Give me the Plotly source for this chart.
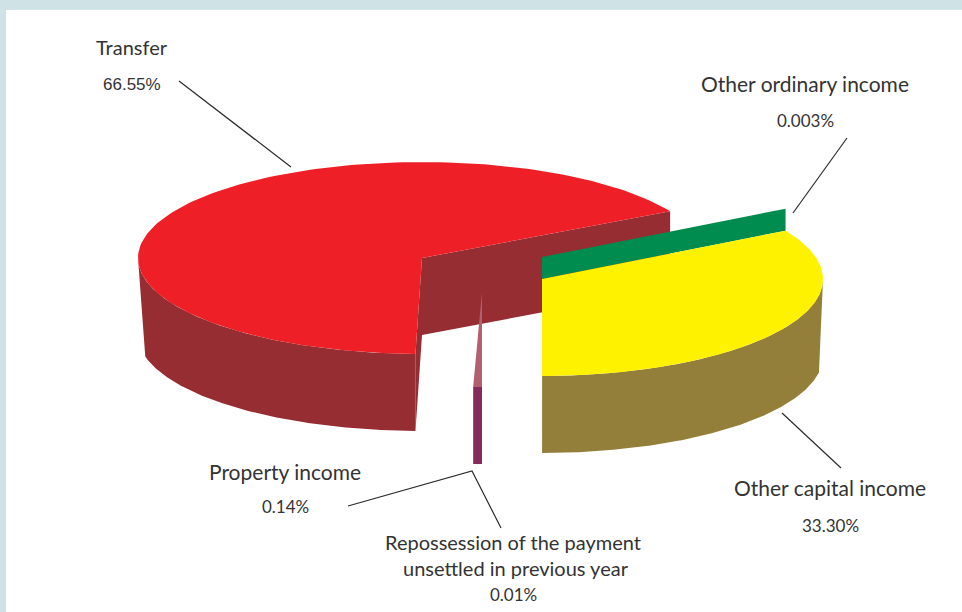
import numpy as np
import plotly.graph_objects as go

# Income shares in percent
categories = ["Transfer", "Other capital income", "Other ordinary income",
              "Property income", "Repossession of the payment unsettled in previous year"]
shares = [66.55, 33.30, 0.003, 0.14, 0.01]
share_labels = ["66.55%", "33.30%", "0.003%", "0.14%", "0.01%"]

# Pie projection settings
RX, RY = 284, 96
RX_R, RY_R = 281, 97
DEPTH = 77
RED_C = (422, 258)
YEL_C = (542, 279)
SLIVER_C = (482, 292)
RED_START = 29.1
YEL_START = 29.9
GREEN_RISE = 22
MIN_SWEEP = 1.8   # thinnest slices are widened so they stay visible


def arc(c, rx, ry, a0, a1, dy=0, n=160):
    t = np.radians(np.linspace(a0, a1, n))
    return c[0] + rx * np.cos(t), c[1] - ry * np.sin(t) + dy


def pt(c, rx, ry, a, dy=0):
    x, y = arc(c, rx, ry, a, a, dy, 1)
    return float(x[0]), float(y[0])


fig = go.Figure()


def poly(xs, ys, color):
    fig.add_trace(go.Scatter(x=list(xs), y=list(ys), mode="lines", fill="toself",
                             fillcolor=color, line=dict(width=0, color=color),
                             hoverinfo="skip", showlegend=False))


def line(xs, ys):
    fig.add_trace(go.Scatter(x=xs, y=ys, mode="lines", line=dict(color="#2b2b2b", width=1.2),
                             hoverinfo="skip", showlegend=False))


# Transfer slice
red_sweep = shares[0] * 3.6
red_end = RED_START + red_sweep
sx, sy = pt(RED_C, RX, RY, RED_START)
ex, ey = pt(RED_C, RX, RY, red_end)
poly([RED_C[0], sx, sx, RED_C[0]], [RED_C[1], sy, sy + DEPTH, RED_C[1] + DEPTH], "#952D33")
poly([RED_C[0], ex, ex, RED_C[0]], [RED_C[1], ey, ey + DEPTH, RED_C[1] + DEPTH], "#952D33")
tx, ty = arc(RED_C, RX, RY, 180, red_end)
bx, by = arc(RED_C, RX, RY, red_end, 193, DEPTH)
poly(np.r_[tx, bx], np.r_[ty, by], "#952D33")
ax, ay = arc(RED_C, RX, RY, RED_START, red_end)
poly(np.r_[RED_C[0], ax], np.r_[RED_C[1], ay], "#EE1F26")

# Property income and repossession sliver
sl_sweep = max((shares[3] + shares[4]) * 3.6, MIN_SWEEP)
sl_a, sl_b = 270, 270 - sl_sweep
ax, ay = arc(SLIVER_C, RX_R, 95, sl_b, sl_a, 0, 8)
poly(np.r_[SLIVER_C[0], ax], np.r_[SLIVER_C[1], ay], "#B0606E")
bx, by = arc(SLIVER_C, RX_R, 95, sl_a, sl_b, DEPTH, 8)
poly(np.r_[ax, bx], np.r_[ay, by], "#842B5B")

# Other ordinary income: a zero-width slice whose cut face stands proud
yel_sweep = shares[1] * 3.6
gx, gy = pt(YEL_C, RX_R, RY_R, YEL_START + shares[2] * 3.6)
poly([YEL_C[0], gx, gx, YEL_C[0]],
     [YEL_C[1], gy, gy - GREEN_RISE, YEL_C[1] - GREEN_RISE], "#008C4F")

# Other capital income slice
yel_end = YEL_START - yel_sweep
tx, ty = arc(YEL_C, RX_R, RY_R, 0, yel_end)
bx, by = arc(YEL_C, RX_R, RY_R, yel_end, -9.7, DEPTH)
poly(np.r_[tx, bx], np.r_[ty, by], "#947F3A")
ax, ay = arc(YEL_C, RX_R, RY_R, YEL_START, yel_end)
poly(np.r_[YEL_C[0], ax], np.r_[YEL_C[1], ay], "#FFF200")

# Leader lines
line([179, 291], [81, 167])
line([847, 793], [138, 213])
line([782, 841], [413, 468])
line([348, 472, 501], [506, 471, 528])

FONT = "Lato"
NAME_SIZE = 21
VALUE_SIZE = 17
TEXT = "#333333"


def label(text, x, y, size, family=FONT):
    fig.add_annotation(x=x, y=y, text=text, showarrow=False, xanchor="center", yanchor="middle",
                       font=dict(family=family, size=size, color=TEXT))


label(categories[0], 132, 47, 20)
label(share_labels[0], 132, 84, 17, "Liberation Sans")
label(categories[2], 805, 83, NAME_SIZE)
label(share_labels[2], 805, 120, VALUE_SIZE)
label(categories[1], 830, 487, NAME_SIZE)
label(share_labels[1], 830, 525, VALUE_SIZE)
label(categories[3], 285, 471, NAME_SIZE)
label(share_labels[3], 285, 506, VALUE_SIZE)
label("Repossession of the payment", 513, 542, 20)
label("unsettled in previous year", 516, 568, 20)
label(share_labels[4], 513, 594, VALUE_SIZE)

fig.update_layout(
    width=962, height=612, autosize=False, showlegend=False,
    margin=dict(l=6, r=0, t=10, b=0, pad=0),
    paper_bgcolor="#CFE2E6", plot_bgcolor="#FFFFFF",
    xaxis=dict(range=[6, 962], visible=False, fixedrange=True),
    yaxis=dict(range=[612, 10], visible=False, fixedrange=True),
)
fig.write_html("out.html")
